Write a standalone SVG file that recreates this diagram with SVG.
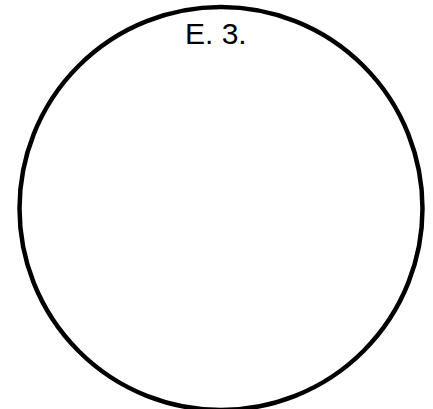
<svg xmlns="http://www.w3.org/2000/svg" width="433" height="409" viewBox="0 0 433 409">
<style>
.c{fill:none;stroke:#000;stroke-width:4.5}
.t{font-family:"Liberation Sans",Arial,sans-serif;font-size:30px;fill:#000}
</style>
<rect width="433" height="409" fill="#fff"/>
<g id="node1">
<circle class="c" cx="221" cy="208.5" r="201.5"/>
<text class="t" x="185" y="44.3">E. 3.</text>
</g>
<g id="connectors"/>
</svg>
